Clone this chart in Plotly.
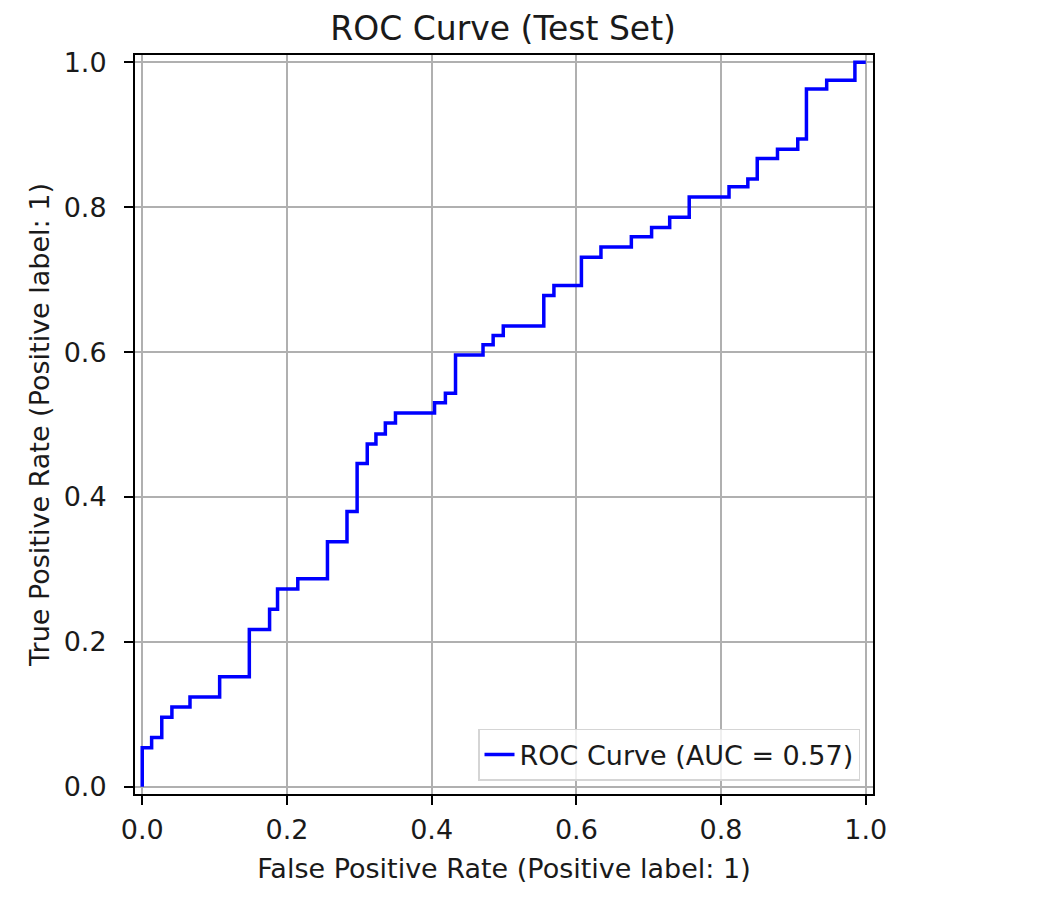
import plotly.graph_objects as go

# ROC curve corner points (step after each fpr value)
fpr = [0.0, 0.0, 0.013, 0.027, 0.041, 0.066, 0.107, 0.148, 0.176, 0.187, 0.215,
       0.256, 0.283, 0.297, 0.311, 0.323, 0.336, 0.350, 0.404, 0.419, 0.433,
       0.471, 0.485, 0.499, 0.555, 0.569, 0.607, 0.634, 0.676, 0.704, 0.729,
       0.756, 0.811, 0.837, 0.850, 0.878, 0.906, 0.918, 0.946, 0.985, 1.0]
tpr = [0.0, 0.054, 0.068, 0.096, 0.110, 0.124, 0.152, 0.217, 0.245, 0.273, 0.287,
       0.338, 0.380, 0.446, 0.473, 0.487, 0.502, 0.516, 0.530, 0.543, 0.596,
       0.610, 0.623, 0.636, 0.678, 0.692, 0.731, 0.745, 0.759, 0.772, 0.786,
       0.814, 0.828, 0.839, 0.867, 0.880, 0.894, 0.963, 0.975, 1.0, 1.0]
auc_value = 0.57
tick_vals = [0.0, 0.2, 0.4, 0.6, 0.8, 1.0]

FONT = "DejaVu Sans"
TXT = "#1a1a1a"
FS = 27

fig = go.Figure()
fig.add_trace(go.Scatter(
    x=fpr, y=tpr, mode="lines", line=dict(color="#0000ff", width=3.5, shape="hv"),
    name=f"ROC Curve (AUC = {auc_value:.2f})",
))

axis_common = dict(
    range=[-0.01, 1.01], tickvals=tick_vals, tickformat=".1f",
    showgrid=True, gridcolor="#b0b0b0", gridwidth=2,
    zeroline=False, showline=True, mirror=True, linecolor="black", linewidth=2,
    ticks="outside", ticklen=9, tickwidth=2, tickcolor="black",
    tickfont=dict(family=FONT, size=FS, color=TXT),
    automargin=False,
)

fig.update_layout(
    width=1058, height=898, autosize=False,
    paper_bgcolor="white", plot_bgcolor="white",
    margin=dict(l=127, r=193, t=47, b=112),
    font=dict(family=FONT, size=FS, color=TXT),
    title=dict(text="ROC Curve (Test Set)", x=0.468, xanchor="center",
               y=1 - 20 / 898, yanchor="middle",
               font=dict(family=FONT, size=33, color=TXT)),
    xaxis=dict(axis_common, ticklabelstandoff=2,
               title=dict(text="False Positive Rate (Positive label: 1)",
                          standoff=15, font=dict(family=FONT, size=FS, color=TXT))),
    yaxis=dict(axis_common, ticklabelstandoff=12,
               title=dict(text="True Positive Rate (Positive label: 1)",
                          standoff=6, font=dict(family=FONT, size=FS, color=TXT))),
    showlegend=True,
    legend=dict(x=0.9824, y=0.0176, xanchor="right", yanchor="bottom",
                bgcolor="rgba(255,255,255,0.8)", bordercolor="#d5d5d5", borderwidth=1.5,
                font=dict(family=FONT, size=FS, color=TXT)),
)

fig.write_html("out.html")
